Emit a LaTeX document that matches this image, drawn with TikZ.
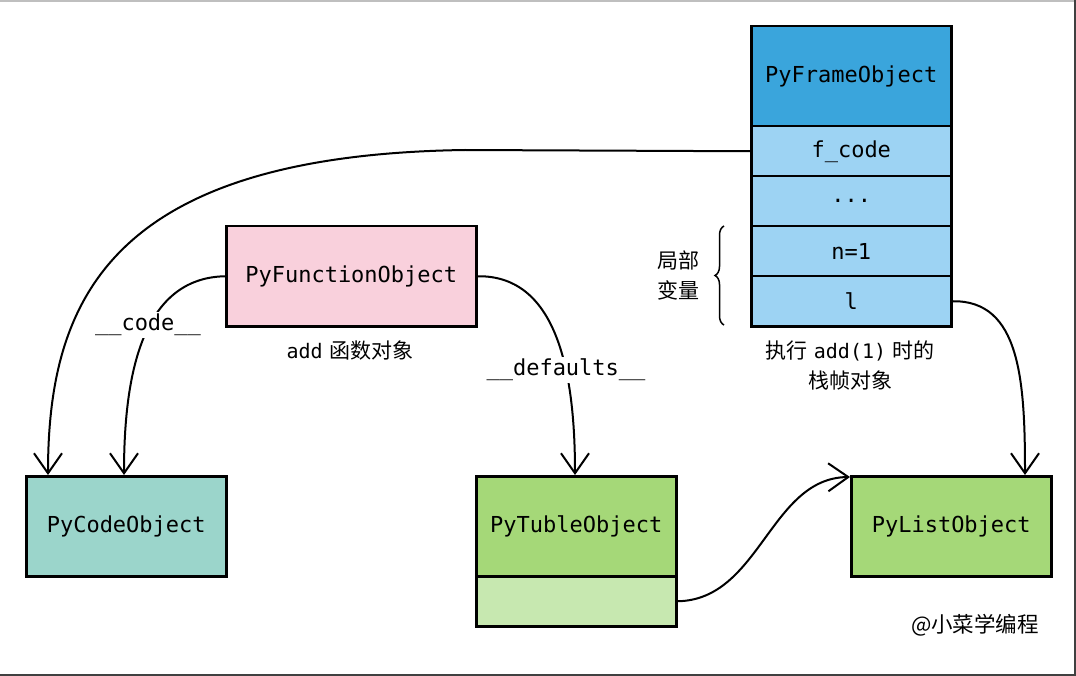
\documentclass[tikz,border=0pt]{standalone}
\usepackage{fontspec}
\setmainfont{DejaVu Sans}
\setmonofont{DejaVu Sans Mono}
\newfontfamily\cjk{Noto Sans CJK SC}
\usetikzlibrary{arrows.meta,decorations.pathreplacing}
\definecolor{hdrblue}{HTML}{3AA5DC}
\definecolor{cellblue}{HTML}{9DD3F3}
\definecolor{pinkbox}{HTML}{F9D0DC}
\definecolor{tealbox}{HTML}{9BD5CB}
\definecolor{greenbox}{HTML}{A5D878}
\definecolor{lgreenbox}{HTML}{C7E8B0}
\begin{document}
\begin{tikzpicture}[x=1pt,y=-1pt,
  objbox/.style={draw=black, line width=2.5pt, minimum width=200pt, minimum height=100pt,
    inner sep=0pt, anchor=north west, font=\fontsize{22}{26}\selectfont\ttfamily},
  cellbox/.style={objbox, minimum height=50pt},
  conn/.style={line width=2pt, -{Straight Barb[length=20pt,width=28pt]}},
  lbl/.style={fill=white, inner sep=2pt, font=\fontsize{22}{26}\selectfont\ttfamily},
  note/.style={align=center, font=\fontsize{21}{30}\selectfont}
]
\useasboundingbox (0,0) rectangle (1076,676);
\fill[white] (0,0) rectangle (1076,676);
\draw[black!25, line width=2pt] (0,1) -- (1076,1);
\draw[black!75, line width=2.5pt] (1075,0) -- (1075,676);
\draw[black!75, line width=2.5pt] (0,675) -- (1076,675);

% frame object
\node[objbox, fill=hdrblue] (frame) at (750,25) {PyFrameObject};
\node[cellbox, fill=cellblue] (fcode) at (750,125) {f\_code};
\node[cellbox, fill=cellblue] (dots) at (750,175) {...};
\node[cellbox, fill=cellblue] (nval) at (750,225) {n=1};
\node[cellbox, fill=cellblue] (lval) at (750,275) {l};

% function object
\node[objbox, fill=pinkbox, minimum width=250pt] (func) at (225,225) {PyFunctionObject};
\node[note] (funclbl) at (350,351) {{\fontsize{20}{30}\selectfont\ttfamily add} {\cjk 函数对象}};

% bottom objects
\node[objbox, fill=tealbox] (code) at (25,475) {PyCodeObject};
\node[objbox, fill=greenbox] (tuple) at (475,475) {PyTubleObject};
\node[cellbox, fill=lgreenbox] (tcell) at (475,575) {};
\node[objbox, fill=greenbox] (list) at (850,475) {PyListObject};

% notes
\node[note] (framelbl) at (850,365) {{\cjk 执行} {\fontsize{20}{30}\selectfont\ttfamily add(1)} {\cjk 时的}\\{\cjk 栈帧对象}};
\node[note] (locallbl) at (678,275) {{\cjk 局部}\\{\cjk 变量}};
\draw[line width=1.5pt, decorate, decoration={brace, amplitude=9pt}] (724,325) -- (724,226);
\node[font=\fontsize{21.5}{24}\selectfont\cjk] (mark) at (975,625) {@小菜学编程};

% connectors
\coordinate (bend) at (465,150);
\draw[conn] (fcode.west) -- (bend) .. controls (110,155) and (48,300) .. ([xshift=23pt]code.north west);
\draw[conn] (func.west) .. controls (140,278) and (124,380) .. ([xshift=99pt]code.north west);
\draw[conn] (func.east) .. controls (560,275) and (575,380) .. ([xshift=100pt]tuple.north west);
\draw[conn] (lval.east) .. controls (1020,300) and (1025,380) .. ([xshift=175pt]list.north west);
\draw[conn] (tcell.east) .. controls (760,600) and (770,478) .. ([yshift=-2pt]list.north west);

% connector labels
\node[lbl] (codelbl) at (148,325) {\_\_code\_\_};
\node[lbl] (deflbl) at (566,370) {\_\_defaults\_\_};
\end{tikzpicture}
\end{document}
